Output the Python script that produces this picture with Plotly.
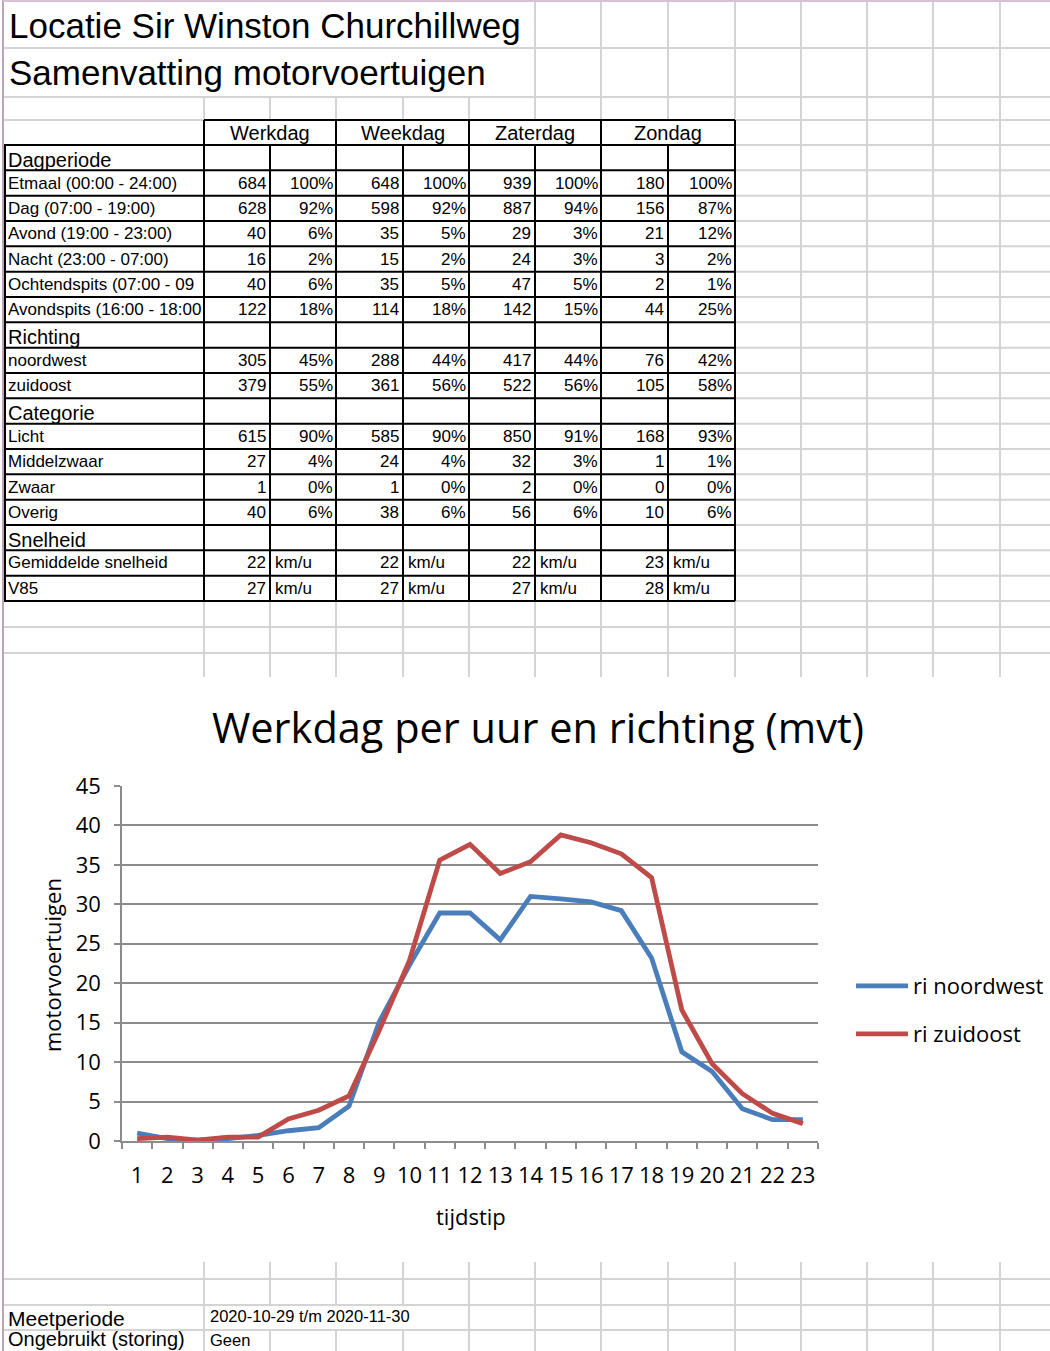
import plotly.graph_objects as go

W, H = 1050, 1351

# ---------------- data ----------------
hours = [str(h) for h in range(1, 24)]
ri_noordwest = [1.0, 0.3, 0.1, 0.3, 0.7, 1.3, 1.7, 4.4, 15.1, 22.3, 28.9, 28.9,
                25.5, 31.0, 30.7, 30.3, 29.2, 23.2, 11.3, 8.8, 4.1, 2.7, 2.7]
ri_zuidoost = [0.3, 0.5, 0.1, 0.5, 0.5, 2.8, 3.9, 5.7, 14.0, 22.9, 35.6, 37.6,
               33.9, 35.4, 38.8, 37.8, 36.4, 33.4, 16.6, 9.8, 6.0, 3.5, 2.2]
series_names = ["ri noordwest", "ri zuidoost"]

title_lines = ["Locatie Sir Winston Churchillweg", "Samenvatting motorvoertuigen"]
chart_title = "Werkdag per uur en richting (mvt)"
x_title = "tijdstip"
y_title = "motorvoertuigen"

day_types = ["Werkdag", "Weekdag", "Zaterdag", "Zondag"]

dagperiode_title = "Dagperiode"
dagperiode_labels = ["Etmaal (00:00 - 24:00)", "Dag (07:00 - 19:00)", "Avond (19:00 - 23:00)",
                     "Nacht (23:00 - 07:00)", "Ochtendspits (07:00 - 09", "Avondspits (16:00 - 18:00"]
dagperiode_counts = [[684, 648, 939, 180], [628, 598, 887, 156], [40, 35, 29, 21],
                     [16, 15, 24, 3], [40, 35, 47, 2], [122, 114, 142, 44]]
dagperiode_pct = [[100, 100, 100, 100], [92, 92, 94, 87], [6, 5, 3, 12],
                  [2, 2, 3, 2], [6, 5, 5, 1], [18, 18, 15, 25]]

richting_title = "Richting"
richting_labels = ["noordwest", "zuidoost"]
richting_counts = [[305, 288, 417, 76], [379, 361, 522, 105]]
richting_pct = [[45, 44, 44, 42], [55, 56, 56, 58]]

categorie_title = "Categorie"
categorie_labels = ["Licht", "Middelzwaar", "Zwaar", "Overig"]
categorie_counts = [[615, 585, 850, 168], [27, 24, 32, 1], [1, 1, 2, 0], [40, 38, 56, 10]]
categorie_pct = [[90, 90, 91, 93], [4, 4, 3, 1], [0, 0, 0, 0], [6, 6, 6, 6]]

snelheid_title = "Snelheid"
snelheid_labels = ["Gemiddelde snelheid", "V85"]
snelheid_values = [[22, 22, 22, 23], [27, 27, 27, 28]]
speed_unit = "km/u"

meetperiode_label = "Meetperiode"
meetperiode_value = "2020-10-29 t/m 2020-11-30"
storing_label = "Ongebruikt (storing)"
storing_value = "Geen"

# ---------------- styling / geometry ----------------
SHEET_FONT = "Liberation Sans, Arial, sans-serif"
CHART_FONT = "Open Sans, Noto Sans, sans-serif"
GRID = "#d4d4d4"
BLACK = "#000000"
BLUE = "#4a7ebb"
RED = "#be4b48"

col_edges = [4, 204, 270, 336, 403, 469, 535, 601, 668, 735, 801, 867, 933, 1000]


def px(x):
    return x / W


def py(y):
    return 1 - y / H


shapes = []
annotations = []


def seg(x0, y0, x1, y1, color, width):
    shapes.append(dict(type="line", xref="paper", yref="paper",
                       x0=px(x0), y0=py(y0), x1=px(x1), y1=py(y1),
                       line=dict(color=color, width=width), layer="above"))


def txt(x, y, s, size, anchor="left", family=SHEET_FONT, angle=0):
    annotations.append(dict(xref="paper", yref="paper", x=px(x), y=py(y), text=s,
                            showarrow=False, xanchor=anchor, yanchor="middle",
                            textangle=angle, borderpad=0,
                            font=dict(family=family, size=size, color="#000")))


# ---- spreadsheet gray grid ----
for y in [48, 97, 120]:
    seg(4, y, W, y, GRID, 2)
for x in col_edges[6:]:
    seg(x, 0, x, 97, GRID, 2)
for x in col_edges[1:]:
    seg(x, 97, x, 120, GRID, 2)

TOP = 145
NROWS = 18
RH = (601 - TOP) / NROWS
row_edges = [TOP + RH * i for i in range(NROWS + 1)]

for y in [120] + row_edges:
    seg(735, y, W, y, GRID, 2)
for x in col_edges[10:]:
    seg(x, 120, x, 601, GRID, 2)

for y in [627, 653]:
    seg(4, y, W, y, GRID, 2)
for x in col_edges[1:]:
    seg(x, 601, x, 677, GRID, 2)

for y in [1279, 1305, 1330]:
    seg(4, y, W, y, GRID, 2)
for x in col_edges[1:]:
    if x in (270, 336, 403):
        seg(x, 1262, x, 1305, GRID, 2)
        seg(x, 1330, x, H, GRID, 2)
    else:
        seg(x, 1262, x, H, GRID, 2)

seg(3, 0, 3, H, "#c4a0bf", 2)
seg(3, 1, W, 1, "#d8c0d4", 2)

# ---- table black borders ----
seg(204, 120, 735, 120, BLACK, 2)
for x in col_edges[1:10:2]:
    seg(x, 120, x, TOP, BLACK, 2)
for y in row_edges:
    seg(4, y, 735, y, BLACK, 2)
for x in [5] + col_edges[1:10]:
    seg(x, TOP, x, 601, BLACK, 2)

# ---- titles ----
txt(8, 25, title_lines[0], 35)
txt(8, 72, title_lines[1], 35)

for i, d in enumerate(day_types):
    txt((col_edges[1 + 2 * i] + col_edges[3 + 2 * i]) / 2, 133, d, 20, anchor="center")

rows = [("section", dagperiode_title)]
rows += [("data", l, c, p) for l, c, p in zip(dagperiode_labels, dagperiode_counts, dagperiode_pct)]
rows += [("section", richting_title)]
rows += [("data", l, c, p) for l, c, p in zip(richting_labels, richting_counts, richting_pct)]
rows += [("section", categorie_title)]
rows += [("data", l, c, p) for l, c, p in zip(categorie_labels, categorie_counts, categorie_pct)]
rows += [("section", snelheid_title)]
rows += [("speed", l, v) for l, v in zip(snelheid_labels, snelheid_values)]

for r, row in enumerate(rows):
    yc = row_edges[r] + RH / 2
    if row[0] == "section":
        txt(7, yc + 2, row[1], 20)
        continue
    txt(7, yc, row[1], 17)
    for i in range(4):
        mid = col_edges[2 + 2 * i]
        end = col_edges[3 + 2 * i]
        if row[0] == "data":
            txt(mid - 3, yc, str(row[2][i]), 17, anchor="right")
            txt(end - 2, yc, f"{row[3][i]}%", 17, anchor="right")
        else:
            txt(mid - 3, yc, str(row[2][i]), 17, anchor="right")
            txt(mid + 4, yc, speed_unit, 17)

txt(7, 1318, meetperiode_label, 21)
txt(209, 1316, meetperiode_value, 16.5)
txt(7, 1339, storing_label, 20)
txt(209, 1340, storing_value, 16.5)

txt(538, 727, chart_title, 41.5, anchor="center", family=CHART_FONT)
txt(471, 1216, x_title, 22, anchor="center", family=CHART_FONT)
txt(52, 965, y_title, 22, anchor="center", family=CHART_FONT, angle=-90)

# ---------------- figure ----------------
fig = go.Figure()
fig.add_trace(go.Scatter(x=hours, y=ri_noordwest, mode="lines", name=series_names[0],
                         line=dict(color=BLUE, width=4.8), legend="legend"))
fig.add_trace(go.Scatter(x=hours, y=ri_zuidoost, mode="lines", name=series_names[1],
                         line=dict(color=RED, width=4.8), legend="legend2"))

leg_common = dict(xanchor="left", yanchor="middle", bgcolor="rgba(0,0,0,0)",
                  font=dict(family=CHART_FONT, size=22, color="#000"), itemwidth=52)

fig.update_layout(
    autosize=True,
    margin=dict(l=0, r=0, t=0, b=0, autoexpand=False),
    paper_bgcolor="white", plot_bgcolor="rgba(0,0,0,0)",
    showlegend=True,
    legend=dict(x=px(851), y=py(986), **leg_common),
    legend2=dict(x=px(851), y=py(1034), **leg_common),
    xaxis=dict(type="category", domain=[px(122), px(818)], tickson="boundaries",
               range=[-0.5, len(hours) - 0.5],
               ticks="outside", ticklen=6, tickcolor="#8c8c8c", tickwidth=1.5,
               showline=True, linecolor="#8c8c8c", linewidth=1.5, showgrid=False,
               tickangle=0,
               tickfont=dict(family=CHART_FONT, size=22, color="#000"),
               ticklabelstandoff=14, fixedrange=True),
    yaxis=dict(range=[0, 45], dtick=5, domain=[py(1141), py(786)],
               showgrid=True, gridcolor="#8c8c8c", gridwidth=1.5, zeroline=False,
               showline=True, linecolor="#8c8c8c", linewidth=1.5,
               ticks="outside", ticklen=6, tickcolor="#8c8c8c", tickwidth=1.5,
               tickfont=dict(family=CHART_FONT, size=22, color="#000"),
               ticklabelstandoff=9, fixedrange=True),
    shapes=shapes,
    annotations=annotations,
)

post = ("document.documentElement.style.margin='0';document.body.style.margin='0';"
        "document.body.style.overflow='hidden';"
        "var gd=document.getElementById('{plot_id}');"
        "gd.style.position='fixed';gd.style.left='0';gd.style.top='0';"
        "gd.style.width='100vw';gd.style.height='100vh';"
        "Plotly.Plots.resize(gd);")

fig.write_html("out.html", config={"displayModeBar": False, "responsive": True},
               default_width="100vw", default_height="100vh", post_script=post)
